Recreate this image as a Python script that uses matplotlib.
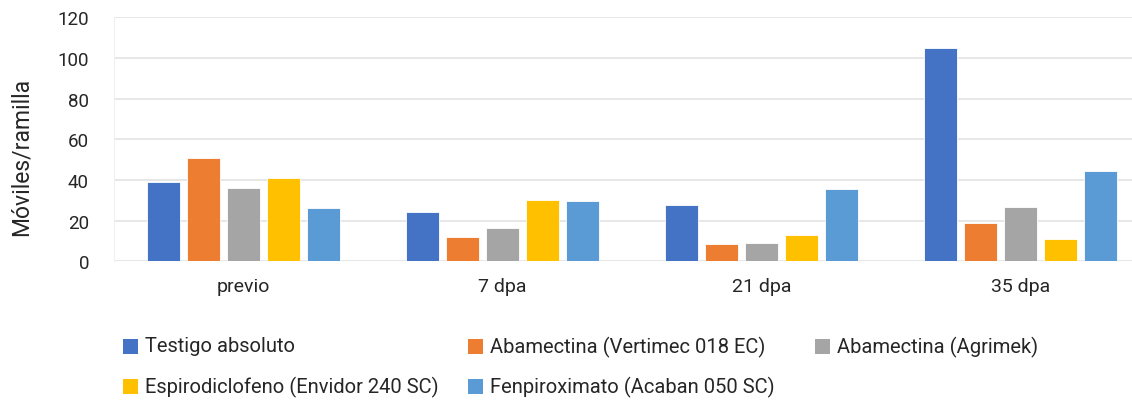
import numpy as np
import matplotlib
matplotlib.use("Agg")
import matplotlib.pyplot as plt
from matplotlib.patches import Rectangle


periods = ["previo", "7 dpa", "21 dpa", "35 dpa"]
treatments = [
    "Testigo absoluto",
    "Abamectina (Vertimec 018 EC)",
    "Abamectina (Agrimek)",
    "Espirodiclofeno (Envidor 240 SC)",
    "Fenpiroximato (Acaban 050 SC)",
]
testigo = [39.2, 24.1, 27.7, 104.8]
vertimec = [50.7, 12.1, 8.7, 18.7]
agrimek = [35.9, 16.4, 9.0, 26.9]
envidor = [40.8, 30.3, 12.8, 11.1]
acaban = [26.1, 29.7, 35.4, 44.4]
yticks = [0, 20, 40, 60, 80, 100, 120]

colors = ["#4472C4", "#ED7D31", "#A5A5A5", "#FFC000", "#5B9BD5"]

# legend swatch positions in pixels (left edge, vertical centre)
W, H = 1132, 402
legend_xy = [(123, 347), (468, 347), (815, 347), (123, 387), (468, 387)]


def main():
    plt.rcParams.update({"font.family": ["Roboto", "DejaVu Sans"]})
    fig = plt.figure(figsize=(W / 100, H / 100), dpi=100)
    # plot area runs past the right edge of the canvas
    ax = fig.add_axes([114 / W, 1 - 262.3 / H, 1036 / W, 244 / H])

    series = [testigo, vertimec, agrimek, envidor, acaban]
    x = np.arange(len(periods))
    slot = 0.1544
    width = 0.127
    for i, (vals, col, name) in enumerate(zip(series, colors, treatments)):
        ax.bar(x + (i - 2) * slot, vals, width, color=col, edgecolor="white",
               linewidth=0.6, label=name, zorder=3)

    ax.set_xlim(-0.5, len(periods) - 0.5)
    ax.set_ylim(0, 120)
    ax.set_yticks(yticks)
    ax.set_xticks(x)
    ax.set_xticklabels(periods, fontsize=14, color="#262626")
    ax.tick_params(axis="y", labelsize=13.5, colors="#262626", length=0, pad=18)
    ax.tick_params(axis="x", length=0, pad=11)
    ax.grid(axis="y", color="#E3E3E3", linewidth=1.2, zorder=0)
    for s in ["top", "right", "bottom"]:
        ax.spines[s].set_visible(False)
    ax.spines["left"].set_color("#F0F0F0")
    ax.set_ylabel("Móviles/ramilla", fontsize=16.5, color="#262626")
    ax.yaxis.set_label_coords(-0.079, 0.43)

    # legend entries placed row by row
    sw = 15
    for (px, py), col, name in zip(legend_xy, colors, treatments):
        fig.patches.append(Rectangle((px / W, 1 - (py + sw / 2) / H), sw / W, sw / H,
                                     transform=fig.transFigure, facecolor=col,
                                     edgecolor="none"))
        fig.text((px + 22) / W, 1 - py / H, name, fontsize=14.5, color="#262626",
                 ha="left", va="center")

    fig.savefig("out.png", dpi=100, facecolor="white")
    plt.close(fig)


if __name__ == "__main__":
    main()
